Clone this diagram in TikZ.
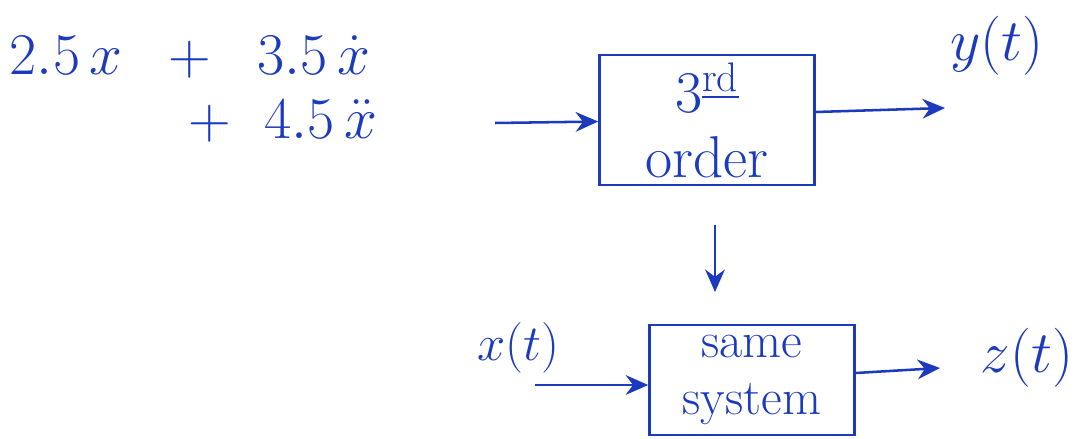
\RequirePackage{fix-cm}
\documentclass[tikz,border=0pt]{standalone}
\usepackage{amsmath, amssymb}
\usepackage{xcolor}
\usepackage{tikz}
\usetikzlibrary{positioning, arrows.meta}
\definecolor{ink}{RGB}{28,58,190}

\begin{document}
\begin{tikzpicture}[
    x=0.025cm, y=-0.025cm,
    every node/.style={text=ink, font=\fontsize{36}{40}\selectfont, inner sep=0pt},
    block/.style={draw=ink, line width=1.8pt, align=center},
    big/.style={font=\fontsize{42}{46}\selectfont},
    flow/.style={draw=ink, line width=1.8pt, -{Stealth[length=16pt, width=14pt]}}
]
\useasboundingbox (0,0) rectangle (1089,439);

\node (eqA) [big] at (190,57) {$2.5\,x \;\;+\;\; 3.5\,\dot{x}$};
\node (eqB) [big] at (283,121) {$+\;\; 4.5\,\ddot{x}$};

\node (order) [block, big, minimum width=5.375cm, minimum height=3.25cm] at (707,120)
    {$3^{\underline{\text{rd}}}$\\order};
\node (same) [block, minimum width=5.125cm, minimum height=2.75cm] at (752,380)
    {same\\system};

\coordinate (in1) at (495,123);
\coordinate (out1) at (945,108);
\coordinate (down1) at (715,225);
\coordinate (down2) at (715,292);
\coordinate (in2) at (535,385);
\coordinate (out2) at (940,368);

\node (y) [big] at (997,46) {$y(t)$};
\node (x) at (518,348) {$x(t)$};
\node (z) [big] at (1027,358) {$z(t)$};

\draw[flow] (in1) -- (order);
\draw[flow] (order.east |- 0,112) -- (out1);
\draw[flow] (down1) -- (down2);
\draw[flow] (in2) -- (same.west |- in2);
\draw[flow] (same.east |- 0,373) -- (out2);
\end{tikzpicture}
\end{document}
